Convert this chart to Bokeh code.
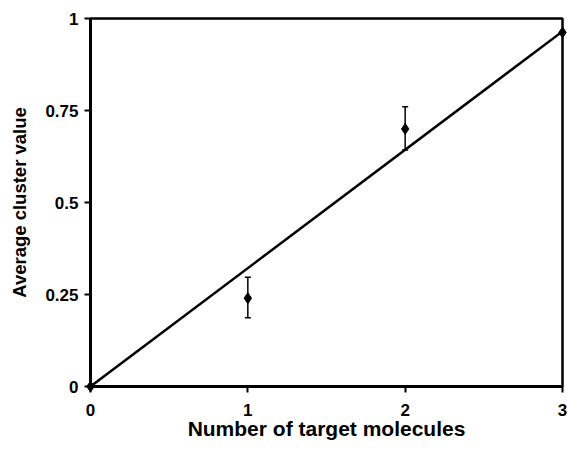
from bokeh.plotting import figure
from bokeh.models import FixedTicker, Range1d, Whisker, ColumnDataSource
from bokeh.embed import file_html
from bokeh.resources import INLINE

# data
molecules = [0, 1, 2, 3]
cluster_value = [0.0, 0.24, 0.70, 0.962]
err_low = [0.0, 0.187, 0.643, 0.962]
err_high = [0.0, 0.297, 0.760, 0.962]
fit_x = [0, 3]
fit_y = [0.0, 0.965]
x_ticks = [0, 1, 2, 3]
x_tick_labels = ["0", "1", "2", "3"]
y_ticks = [0, 0.25, 0.5, 0.75, 1]
y_tick_labels = ["0", "0.25", "0.5", "0.75", "1"]

FONT = "Liberation Sans"

p = figure(width=567, height=454, output_backend="svg", toolbar_location=None,
           x_range=Range1d(0, 3), y_range=Range1d(0, 1),
           min_border_left=90, min_border_right=5, min_border_top=18, min_border_bottom=68)
p.background_fill_color = "white"
p.border_fill_color = "white"
p.grid.visible = False
p.outline_line_color = "black"
p.outline_line_width = 2.5

p.line(fit_x, fit_y, line_color="black", line_width=2.5)

src = ColumnDataSource(dict(x=molecules[1:3], lo=err_low[1:3], hi=err_high[1:3]))
w = Whisker(base="x", lower="lo", upper="hi", source=src, line_color="black", line_width=1.5)
w.upper_head.size = 6
w.lower_head.size = 6
w.upper_head.line_width = 1.5
w.lower_head.line_width = 1.5
p.add_layout(w)

pts = p.scatter(molecules, cluster_value, marker="diamond", size=11, fill_color="black", line_color="black")
pts.level = "overlay"

for ax, ticks, labels in ((p.xaxis[0], x_ticks, x_tick_labels), (p.yaxis[0], y_ticks, y_tick_labels)):
    ax.ticker = FixedTicker(ticks=ticks)
    ax.major_label_overrides = {t: l for t, l in zip(ticks, labels)}
    ax.minor_tick_line_color = None
    ax.axis_line_width = 3
    ax.major_tick_line_width = 2
    ax.major_tick_in = 0
    ax.major_tick_out = 6
    ax.major_label_text_font = FONT
    ax.major_label_text_font_style = "bold"
    ax.major_label_text_font_size = "17px"
    ax.major_label_text_color = "black"
    ax.axis_label_text_font = FONT
    ax.axis_label_text_font_style = "bold"
    ax.axis_label_text_color = "black"

p.xaxis.axis_label = "Number of target molecules"
p.yaxis.axis_label = "Average cluster value"
p.xaxis.axis_label_text_font_size = "21px"
p.yaxis.axis_label_text_font_size = "18.5px"
p.xaxis.major_label_standoff = 11
p.yaxis.major_label_standoff = 6
p.xaxis.axis_label_standoff = -2
p.yaxis.axis_label_standoff = 12

open("out.html", "w").write(file_html(p, INLINE))
